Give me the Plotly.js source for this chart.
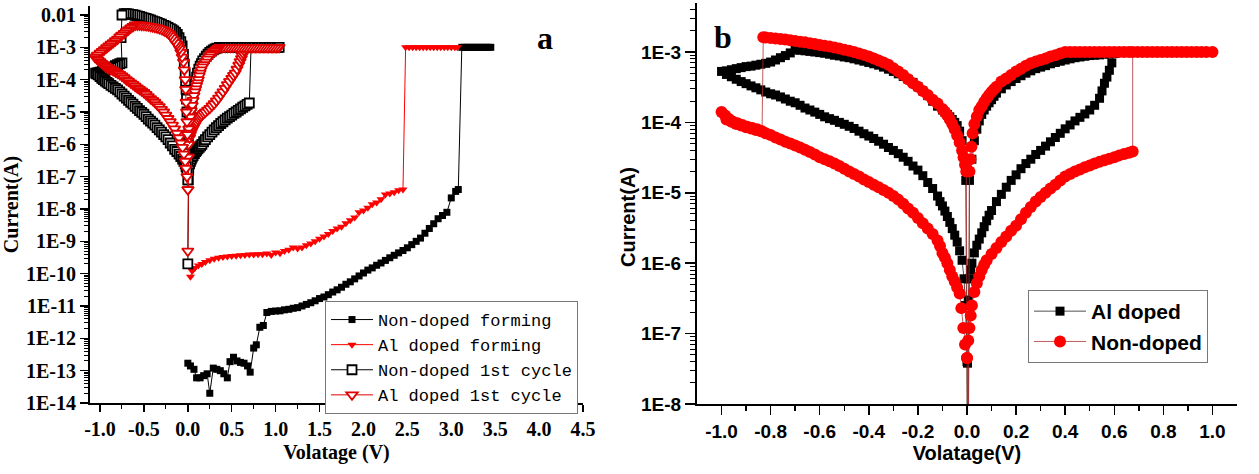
<!DOCTYPE html>
<html><head><meta charset="utf-8">
<script src="https://cdn.plot.ly/plotly-3.0.1.min.js"></script>
<style>html,body{margin:0;padding:0;background:#fff}#chart{width:1259px;height:474px}</style>
</head><body><div id="chart"></div>
<script>
// ================= DATA (voltage V, current A) =================
// Panel a
const nonDopedForming = [[0.00,1.7e-13],[0.03,1.4e-13],[0.07,1.1e-13],[0.10,6e-14],[0.14,6e-14],[0.18,7e-14],[0.22,8e-14],[0.25,2e-14],[0.29,1.2e-13],[0.33,1.1e-13],[0.37,1e-13],[0.41,8e-14],[0.45,6e-14],[0.48,1.9e-13],[0.52,2.6e-13],[0.56,2e-13],[0.60,1.8e-13],[0.64,1.7e-13],[0.68,1.4e-13],[0.71,9e-14],[0.75,5e-13],[0.78,6.3e-13],[0.82,2.2e-12],[0.86,2.5e-12],[0.90,6.3e-12],[0.95,6.8e-12],[1.00,7.0e-12],[1.05,7.1e-12],[1.10,7.6e-12],[1.15,7.9e-12],[1.20,8.5e-12],[1.25,8.9e-12],[1.30,1.0e-11],[1.35,1.12e-11],[1.40,1.26e-11],[1.45,1.45e-11],[1.50,1.7e-11],[1.55,1.9e-11],[1.60,2.24e-11],[1.65,2.7e-11],[1.70,3.16e-11],[1.75,3.8e-11],[1.80,4.7e-11],[1.85,5.6e-11],[1.90,6.9e-11],[1.95,8.5e-11],[2.00,1.05e-10],[2.05,1.29e-10],[2.10,1.51e-10],[2.15,1.82e-10],[2.20,2.14e-10],[2.25,2.57e-10],[2.30,3.1e-10],[2.35,3.7e-10],[2.40,4.4e-10],[2.45,5.2e-10],[2.50,6.3e-10],[2.55,7.9e-10],[2.60,1.0e-9],[2.65,1.26e-9],[2.70,1.78e-9],[2.75,2.5e-9],[2.80,3.5e-9],[2.85,5.0e-9],[2.90,6.3e-9],[2.95,7.9e-9],[3.00,2.2e-8],[3.05,3.5e-8],[3.08,4.0e-8],[3.12,1e-3],[3.15,1e-3],[3.18,1e-3],[3.21,1e-3],[3.24,1e-3],[3.27,1e-3],[3.30,1e-3],[3.33,1e-3],[3.36,1e-3],[3.39,1e-3],[3.42,1e-3],[3.45,1e-3]];

const alDopedForming = [[0.03,8e-11],[0.05,1.2e-10],[0.08,1.5e-10],[0.12,1.8e-10],[0.16,2.0e-10],[0.20,2.3e-10],[0.25,2.6e-10],[0.30,2.9e-10],[0.35,3.1e-10],[0.40,3.3e-10],[0.45,3.4e-10],[0.50,3.5e-10],[0.55,3.6e-10],[0.60,3.7e-10],[0.65,3.8e-10],[0.70,3.9e-10],[0.75,3.9e-10],[0.80,4.0e-10],[0.85,4.0e-10],[0.90,4.2e-10],[0.95,3.8e-10],[1.00,4.5e-10],[1.05,4.3e-10],[1.10,5.0e-10],[1.15,5.5e-10],[1.20,6.5e-10],[1.25,6.0e-10],[1.30,6.5e-10],[1.35,7.5e-10],[1.40,8.5e-10],[1.45,1.0e-9],[1.50,1.2e-9],[1.55,1.4e-9],[1.60,1.7e-9],[1.65,2.1e-9],[1.70,2.5e-9],[1.75,2.8e-9],[1.80,3.6e-9],[1.85,4.5e-9],[1.90,5.5e-9],[1.95,8e-9],[2.00,9e-9],[2.05,1.1e-8],[2.10,1.4e-8],[2.15,1.6e-8],[2.20,2.0e-8],[2.25,2.8e-8],[2.30,3.0e-8],[2.35,3.3e-8],[2.40,3.8e-8],[2.45,4.0e-8],[2.48,1e-3],[2.52,1e-3],[2.56,1e-3],[2.60,1e-3],[2.64,1e-3],[2.68,1e-3],[2.72,1e-3],[2.76,1e-3],[2.80,1e-3],[2.84,1e-3],[2.88,1e-3],[2.92,1e-3],[2.96,1e-3],[3.00,1e-3],[3.04,1e-3],[3.07,1e-3]];

const nonDoped1st = [
 [0,2e-10],[0.005,8e-8],[0.01,1.6e-7],[0.02,2.5e-7],[0.03,3e-7],[0.04,3.5e-7],[0.05,4e-7],[0.06,4.5e-7],[0.075,5.2e-7],[0.09,6e-7],[0.10,6.5e-7],[0.115,7.3e-7],[0.13,8e-7],[0.145,9e-7],[0.16,1.0e-6],[0.18,1.2e-6],[0.20,1.4e-6],[0.225,1.7e-6],[0.25,2.0e-6],[0.275,2.4e-6],[0.30,2.8e-6],[0.325,3.3e-6],[0.35,3.8e-6],[0.375,4.4e-6],[0.40,5.0e-6],[0.425,5.7e-6],[0.45,6.5e-6],[0.475,7.2e-6],[0.50,8.0e-6],[0.525,9e-6],[0.55,1.0e-5],[0.575,1.12e-5],[0.60,1.25e-5],[0.625,1.4e-5],[0.65,1.55e-5],[0.675,1.72e-5],[0.70,1.9e-5],
 [0.72,1e-3],[0.75,1e-3],[0.78,1e-3],[0.81,1e-3],[0.84,1e-3],[0.87,1e-3],[0.90,1e-3],[0.93,1e-3],[0.96,1e-3],[0.99,1e-3],[1.02,1e-3],[1.04,1e-3],
 [0.69,1e-3],[0.66,1e-3],[0.63,1e-3],[0.60,1e-3],[0.57,1e-3],[0.54,1e-3],[0.51,1e-3],[0.48,1e-3],[0.45,1e-3],[0.42,1e-3],[0.39,1e-3],[0.36,1e-3],
 [0.33,9.5e-4],[0.31,9e-4],[0.29,8.3e-4],[0.27,7.6e-4],[0.25,7e-4],[0.23,6.1e-4],[0.21,5.3e-4],[0.19,4.5e-4],[0.17,3.8e-4],[0.155,3.1e-4],[0.14,2.6e-4],[0.125,2.1e-4],[0.11,1.6e-4],[0.10,1.2e-4],[0.09,9e-5],[0.08,6.5e-5],[0.07,5e-5],[0.06,3.5e-5],[0.05,2.5e-5],[0.04,1.6e-5],[0.03,1e-5],[0.02,5.5e-6],[0.012,2.5e-6],[0.006,1.2e-6],[0.0,3e-7],
 [-0.004,1e-6],[-0.01,1e-5],[-0.015,2.5e-5],[-0.02,5e-5],[-0.025,9e-5],[-0.03,1.5e-4],[-0.04,3e-4],[-0.05,6e-4],[-0.065,1.1e-3],[-0.08,1.5e-3],[-0.10,2e-3],[-0.12,2.5e-3],[-0.14,2.9e-3],[-0.16,3.2e-3],[-0.18,3.5e-3],[-0.20,3.8e-3],[-0.225,4.1e-3],[-0.25,4.5e-3],[-0.275,4.8e-3],[-0.30,5.2e-3],[-0.325,5.5e-3],[-0.35,5.9e-3],[-0.375,6.2e-3],[-0.40,6.6e-3],[-0.425,7e-3],[-0.45,7.4e-3],[-0.475,7.8e-3],[-0.50,8.2e-3],[-0.525,8.6e-3],[-0.55,9e-3],[-0.575,9.4e-3],[-0.60,9.8e-3],[-0.625,1.02e-2],[-0.65,1.05e-2],[-0.675,1.08e-2],[-0.70,1.1e-2],[-0.725,1.1e-2],[-0.75,1.0e-2],
 [-0.76,2e-3],[-0.75,3.3e-4],[-0.775,3.1e-4],[-0.80,2.9e-4],[-0.825,2.7e-4],[-0.85,2.5e-4],[-0.875,2.35e-4],[-0.90,2.2e-4],[-0.925,2.05e-4],[-0.95,1.9e-4],[-0.975,1.8e-4],[-1.00,1.7e-4],[-1.025,1.65e-4],[-1.05,1.6e-4],
 [-1.04,1.5e-4],[-1.02,1.4e-4],[-1.00,1.25e-4],[-0.98,1.1e-4],[-0.96,1e-4],[-0.94,9e-5],[-0.92,8.2e-5],[-0.90,7.5e-5],[-0.875,6.7e-5],[-0.85,6e-5],[-0.825,5.4e-5],[-0.80,4.8e-5],[-0.775,4.2e-5],[-0.75,3.6e-5],[-0.725,3.1e-5],[-0.70,2.7e-5],[-0.675,2.3e-5],[-0.65,2e-5],[-0.625,1.75e-5],[-0.60,1.5e-5],[-0.575,1.3e-5],[-0.55,1.1e-5],[-0.525,9.7e-6],[-0.50,8.5e-6],[-0.475,7.2e-6],[-0.45,6e-6],[-0.425,5.2e-6],[-0.40,4.5e-6],[-0.375,3.9e-6],[-0.35,3.3e-6],[-0.325,2.8e-6],[-0.30,2.4e-6],[-0.275,2e-6],[-0.25,1.7e-6],[-0.225,1.4e-6],[-0.20,1.1e-6],[-0.175,9e-7],[-0.15,7e-7],[-0.125,6e-7],[-0.10,5e-7],[-0.08,4.2e-7],[-0.06,3.5e-7],[-0.045,3e-7],[-0.03,2.5e-7],[-0.02,2e-7],[-0.01,1.5e-7],[0.0,8e-8]];

const alDoped1st = [
 [0,5e-10],[0.003,4e-8],[0.006,4e-7],[0.01,1e-6],[0.02,1.6e-6],[0.03,2e-6],[0.04,2.4e-6],[0.05,2.8e-6],[0.06,3.2e-6],[0.07,3.6e-6],[0.08,4e-6],[0.09,4.5e-6],[0.10,5e-6],[0.115,5.7e-6],[0.13,6.5e-6],[0.145,7.2e-6],[0.16,8e-6],[0.18,9e-6],[0.20,1e-5],[0.225,1.15e-5],[0.25,1.3e-5],[0.275,1.55e-5],[0.30,1.8e-5],[0.325,2.2e-5],[0.35,2.7e-5],[0.375,3.4e-5],[0.40,4.2e-5],[0.425,5.4e-5],[0.45,7e-5],[0.475,8.8e-5],[0.50,1.1e-4],[0.52,1.35e-4],[0.54,1.6e-4],[0.56,2.1e-4],[0.58,2.8e-4],[0.595,3.6e-4],[0.61,4.5e-4],[0.62,5.5e-4],[0.63,6.5e-4],[0.64,8e-4],
 [0.65,1e-3],[0.68,1e-3],[0.71,1e-3],[0.74,1e-3],[0.77,1e-3],[0.80,1e-3],[0.83,1e-3],[0.86,1e-3],[0.89,1e-3],[0.92,1e-3],[0.95,1e-3],[0.98,1e-3],[1.01,1e-3],[1.04,1e-3],
 [1.025,1e-3],[0.995,1e-3],[0.965,1e-3],[0.935,1e-3],[0.905,1e-3],[0.875,1e-3],[0.845,1e-3],[0.815,1e-3],[0.785,1e-3],[0.755,1e-3],[0.725,1e-3],[0.695,1e-3],[0.665,1e-3],[0.635,1e-3],[0.605,1e-3],[0.575,1e-3],[0.545,1e-3],[0.515,1e-3],[0.485,1e-3],[0.455,1e-3],[0.425,1e-3],[0.395,1e-3],[0.365,1e-3],
 [0.34,9.2e-4],[0.32,8.3e-4],[0.30,7.5e-4],[0.28,6.7e-4],[0.26,6e-4],[0.24,5.1e-4],[0.22,4.3e-4],[0.20,3.5e-4],[0.18,2.9e-4],[0.165,2.5e-4],[0.15,2e-4],[0.14,1.6e-4],[0.13,1.3e-4],[0.12,1e-4],[0.11,8e-5],[0.10,6.5e-5],[0.09,5.2e-5],[0.08,4.2e-5],[0.07,3.2e-5],[0.06,2.3e-5],[0.05,1.6e-5],[0.04,1.1e-5],[0.03,7e-6],[0.02,5e-6],[0.01,3e-6],[0.005,2.2e-6],[0.0,4e-7],
 [-0.005,2e-6],[-0.01,5e-6],[-0.015,1e-5],[-0.02,2e-5],[-0.025,5e-5],[-0.03,1e-4],[-0.04,2e-4],[-0.05,3.5e-4],[-0.065,5e-4],[-0.08,7e-4],[-0.095,9e-4],[-0.11,1.1e-3],[-0.125,1.25e-3],[-0.14,1.4e-3],[-0.16,1.7e-3],[-0.18,2e-3],[-0.20,2.35e-3],[-0.22,2.7e-3],[-0.24,2.95e-3],[-0.26,3.2e-3],[-0.28,3.4e-3],[-0.30,3.6e-3],[-0.325,3.8e-3],[-0.35,4e-3],[-0.375,4.15e-3],[-0.40,4.3e-3],[-0.425,4.45e-3],[-0.45,4.6e-3],[-0.475,4.7e-3],[-0.50,4.8e-3],[-0.525,4.85e-3],[-0.55,4.9e-3],[-0.575,4.9e-3],[-0.60,4.9e-3],
 [-0.625,4.4e-3],[-0.65,4e-3],[-0.675,3.5e-3],[-0.70,3.1e-3],[-0.725,2.7e-3],[-0.75,2.4e-3],[-0.775,2.1e-3],[-0.80,1.8e-3],[-0.825,1.6e-3],[-0.85,1.4e-3],[-0.875,1.25e-3],[-0.90,1.1e-3],[-0.925,9.7e-4],[-0.95,8.5e-4],[-0.975,7.5e-4],[-1.00,6.6e-4],[-1.03,5.7e-4],[-1.06,5e-4],
 [-1.04,4.5e-4],[-1.02,4e-4],[-1.00,3.6e-4],[-0.98,3.2e-4],[-0.96,2.9e-4],[-0.94,2.6e-4],[-0.92,2.4e-4],[-0.90,2.2e-4],[-0.875,2.05e-4],[-0.85,1.9e-4],[-0.825,1.75e-4],[-0.80,1.6e-4],[-0.775,1.45e-4],[-0.75,1.3e-4],[-0.725,1.15e-4],[-0.70,1e-4],[-0.675,9e-5],[-0.65,8e-5],[-0.625,7.1e-5],[-0.60,6.3e-5],[-0.575,5.6e-5],[-0.55,5e-5],[-0.525,4.5e-5],[-0.50,4e-5],[-0.475,3.5e-5],[-0.45,3e-5],[-0.425,2.6e-5],[-0.40,2.3e-5],[-0.375,2e-5],[-0.35,1.7e-5],[-0.325,1.45e-5],[-0.30,1.2e-5],[-0.275,1e-5],[-0.25,8e-6],[-0.225,6.3e-6],[-0.20,5e-6],[-0.175,3.9e-6],[-0.15,3e-6],[-0.125,2.2e-6],[-0.10,1.6e-6],[-0.08,1.1e-6],[-0.06,8e-7],[-0.045,5e-7],[-0.03,3e-7],[-0.02,1.8e-7],[-0.01,1e-7],[0.0,4e-8]];

// Panel b
const alDopedB = [
 [0.0,1e-10],[0.002,3.8e-8],[0.005,3e-7],[0.01,6e-7],[0.015,8e-7],[0.02,1e-6],[0.03,1.4e-6],[0.04,1.8e-6],[0.05,2.2e-6],[0.06,2.7e-6],[0.07,3.3e-6],[0.08,4e-6],[0.09,4.8e-6],[0.10,5.6e-6],[0.12,7.5e-6],[0.14,9.5e-6],[0.16,1.2e-5],[0.18,1.5e-5],[0.20,1.8e-5],[0.22,2.2e-5],[0.24,2.6e-5],[0.26,3.0e-5],[0.28,3.5e-5],[0.30,4.0e-5],[0.32,4.6e-5],[0.34,5.3e-5],[0.36,6.1e-5],[0.38,7.0e-5],[0.40,8.1e-5],[0.42,9.2e-5],[0.44,1.05e-4],[0.46,1.18e-4],[0.48,1.32e-4],[0.50,1.5e-4],[0.52,1.75e-4],[0.54,2.2e-4],[0.55,2.8e-4],[0.56,3.6e-4],[0.57,4.4e-4],[0.58,5.5e-4],[0.59,7.0e-4],
 [0.60,9.5e-4],[0.58,9.4e-4],[0.56,9.3e-4],[0.54,9.1e-4],[0.52,9e-4],[0.50,8.9e-4],[0.48,8.7e-4],[0.46,8.5e-4],[0.44,8.3e-4],[0.42,8.0e-4],[0.40,7.7e-4],[0.38,7.4e-4],[0.36,7.1e-4],[0.34,6.8e-4],[0.32,6.4e-4],[0.30,6.1e-4],[0.28,5.8e-4],[0.26,5.4e-4],[0.24,5.0e-4],[0.22,4.6e-4],[0.20,4.2e-4],[0.18,3.8e-4],[0.16,3.4e-4],[0.14,3.0e-4],[0.12,2.6e-4],[0.11,2.35e-4],[0.10,2.1e-4],[0.09,1.9e-4],[0.08,1.7e-4],[0.07,1.5e-4],[0.06,1.3e-4],[0.05,1.05e-4],[0.04,8e-5],[0.03,5.5e-5],[0.02,3e-5],[0.01,1.5e-5],
 [0.004,1e-10],
 [-0.005,1.5e-5],[-0.01,3e-5],[-0.02,5.5e-5],[-0.03,7.5e-5],[-0.04,9e-5],[-0.05,1e-4],[-0.06,1.1e-4],[-0.07,1.2e-4],[-0.08,1.3e-4],[-0.09,1.4e-4],[-0.10,1.5e-4],[-0.12,1.7e-4],[-0.14,2e-4],[-0.16,2.4e-4],[-0.18,2.8e-4],[-0.20,3.2e-4],[-0.22,3.7e-4],[-0.24,4.1e-4],[-0.26,4.5e-4],[-0.28,4.9e-4],[-0.30,5.3e-4],[-0.32,5.7e-4],[-0.34,6.1e-4],[-0.36,6.5e-4],[-0.38,6.8e-4],[-0.40,7.1e-4],[-0.42,7.4e-4],[-0.44,7.7e-4],[-0.46,8e-4],[-0.48,8.3e-4],[-0.50,8.5e-4],[-0.52,8.8e-4],[-0.54,9e-4],[-0.56,9.3e-4],[-0.58,9.6e-4],[-0.60,9.8e-4],[-0.62,1.0e-3],[-0.64,1.02e-3],[-0.66,1.04e-3],[-0.68,1.06e-3],[-0.70,1.07e-3],
 [-0.72,9.7e-4],[-0.74,8.9e-4],[-0.76,8.3e-4],[-0.78,7.7e-4],[-0.80,7.2e-4],[-0.82,6.9e-4],[-0.84,6.7e-4],[-0.86,6.5e-4],[-0.88,6.3e-4],[-0.90,6.2e-4],[-0.92,6e-4],[-0.94,5.8e-4],[-0.96,5.6e-4],[-0.98,5.4e-4],[-1.00,5.3e-4],
 [-0.98,4.8e-4],[-0.96,4.45e-4],[-0.94,4.1e-4],[-0.92,3.8e-4],[-0.90,3.55e-4],[-0.88,3.3e-4],[-0.86,3.1e-4],[-0.84,2.9e-4],[-0.82,2.7e-4],[-0.80,2.55e-4],[-0.78,2.45e-4],[-0.76,2.3e-4],[-0.74,2.15e-4],[-0.72,2.0e-4],[-0.70,1.9e-4],[-0.68,1.75e-4],[-0.66,1.6e-4],[-0.64,1.5e-4],[-0.62,1.4e-4],[-0.60,1.3e-4],[-0.58,1.2e-4],[-0.56,1.13e-4],[-0.54,1.07e-4],[-0.52,1.0e-4],[-0.50,9.4e-5],[-0.48,8.8e-5],[-0.46,8.2e-5],[-0.44,7.5e-5],[-0.42,6.9e-5],[-0.40,6.4e-5],[-0.38,5.9e-5],[-0.36,5.4e-5],[-0.34,4.9e-5],[-0.32,4.4e-5],[-0.30,4.0e-5],[-0.28,3.6e-5],[-0.26,3.2e-5],[-0.24,2.8e-5],[-0.22,2.4e-5],[-0.20,2.1e-5],[-0.18,1.75e-5],[-0.16,1.4e-5],[-0.14,1.15e-5],[-0.12,9e-6],[-0.11,7.5e-6],[-0.10,6.5e-6],[-0.09,5.5e-6],[-0.08,4.6e-6],[-0.07,3.8e-6],[-0.06,3.1e-6],[-0.05,2.5e-6],[-0.04,2e-6],[-0.03,1.5e-6],[-0.02,1.1e-6],[-0.012,6e-7],[-0.006,2.5e-7],[0.0,4e-8]];

const nonDopedB = [
 [0.0,4.5e-8],[0.005,8e-8],[0.01,1.2e-7],[0.015,1.8e-7],[0.02,2.5e-7],[0.03,3.9e-7],[0.04,5.2e-7],[0.05,6.5e-7],[0.06,8e-7],[0.07,9.5e-7],[0.08,1.1e-6],[0.10,1.35e-6],[0.12,1.65e-6],[0.14,2.0e-6],[0.16,2.4e-6],[0.18,2.9e-6],[0.20,3.4e-6],[0.22,4.2e-6],[0.24,5.2e-6],[0.26,6.3e-6],[0.28,7.5e-6],[0.30,8.7e-6],[0.32,1.0e-5],[0.34,1.15e-5],[0.36,1.3e-5],[0.38,1.5e-5],[0.40,1.7e-5],[0.42,1.85e-5],[0.44,2.0e-5],[0.46,2.15e-5],[0.48,2.3e-5],[0.50,2.45e-5],[0.52,2.6e-5],[0.54,2.75e-5],[0.56,2.9e-5],[0.58,3.05e-5],[0.60,3.2e-5],[0.62,3.4e-5],[0.64,3.55e-5],[0.66,3.7e-5],[0.675,3.85e-5],
 [0.675,1e-3],[0.695,1e-3],[0.715,1e-3],[0.735,1e-3],[0.755,1e-3],[0.775,1e-3],[0.795,1e-3],[0.815,1e-3],[0.835,1e-3],[0.855,1e-3],[0.875,1e-3],[0.895,1e-3],[0.915,1e-3],[0.935,1e-3],[0.955,1e-3],[0.975,1e-3],[1.00,1e-3],
 [0.66,1e-3],[0.64,1e-3],[0.62,1e-3],[0.60,1e-3],[0.58,1e-3],[0.56,1e-3],[0.54,1e-3],[0.52,1e-3],[0.50,1e-3],[0.48,1e-3],[0.46,1e-3],[0.44,1e-3],[0.42,1e-3],[0.40,1e-3],
 [0.38,9.5e-4],[0.36,9e-4],[0.34,8.6e-4],[0.32,8.1e-4],[0.30,7.7e-4],[0.28,7.3e-4],[0.26,6.9e-4],[0.24,6.4e-4],[0.22,5.8e-4],[0.20,5.3e-4],[0.18,4.7e-4],[0.16,4.2e-4],[0.14,3.8e-4],[0.12,3.2e-4],[0.11,2.95e-4],[0.10,2.7e-4],[0.09,2.45e-4],[0.08,2.2e-4],[0.07,1.95e-4],[0.06,1.7e-4],[0.05,1.5e-4],[0.04,1.2e-4],[0.03,9.5e-5],[0.023,7e-5],[0.018,4.5e-5],[0.014,3e-5],[0.01,2e-5],
 [0.004,1e-10],
 [-0.003,2e-5],[-0.008,2.5e-5],[-0.014,3.2e-5],[-0.02,4e-5],[-0.03,5.2e-5],[-0.04,6.5e-5],[-0.05,8e-5],[-0.06,9.5e-5],[-0.07,1.1e-4],[-0.08,1.25e-4],[-0.09,1.4e-4],[-0.10,1.55e-4],[-0.12,1.85e-4],[-0.14,2.1e-4],[-0.16,2.45e-4],[-0.18,2.8e-4],[-0.20,3.2e-4],[-0.22,3.6e-4],[-0.24,4.1e-4],[-0.26,4.7e-4],[-0.28,5.3e-4],[-0.30,5.9e-4],[-0.32,6.6e-4],[-0.34,7.1e-4],[-0.36,7.6e-4],[-0.38,8.1e-4],[-0.40,8.6e-4],[-0.42,9.1e-4],[-0.44,9.5e-4],[-0.46,1e-3],[-0.48,1.04e-3],[-0.50,1.08e-3],[-0.52,1.12e-3],[-0.54,1.16e-3],[-0.56,1.2e-3],[-0.58,1.23e-3],[-0.60,1.26e-3],[-0.62,1.3e-3],[-0.64,1.33e-3],[-0.66,1.37e-3],[-0.68,1.4e-3],[-0.70,1.43e-3],[-0.72,1.47e-3],[-0.74,1.5e-3],[-0.76,1.53e-3],[-0.78,1.56e-3],[-0.80,1.58e-3],[-0.82,1.61e-3],[-0.83,1.62e-3],
 [-0.835,7.5e-5],[-0.855,8e-5],[-0.875,8.3e-5],[-0.895,8.7e-5],[-0.915,9.2e-5],[-0.935,9.7e-5],[-0.955,1.03e-4],[-0.97,1.12e-4],[-0.985,1.25e-4],[-1.00,1.4e-4],
 [-0.98,1.1e-4],[-0.96,1.02e-4],[-0.94,9.5e-5],[-0.92,9e-5],[-0.90,8.5e-5],[-0.88,8.2e-5],[-0.86,7.8e-5],[-0.84,7.5e-5],[-0.82,7e-5],[-0.80,6.6e-5],[-0.78,6.1e-5],[-0.76,5.7e-5],[-0.74,5.3e-5],[-0.72,5e-5],[-0.70,4.7e-5],[-0.68,4.4e-5],[-0.66,4.1e-5],[-0.64,3.8e-5],[-0.62,3.5e-5],[-0.60,3.2e-5],[-0.58,3e-5],[-0.56,2.8e-5],[-0.54,2.6e-5],[-0.52,2.4e-5],[-0.50,2.2e-5],[-0.48,2e-5],[-0.46,1.85e-5],[-0.44,1.7e-5],[-0.42,1.55e-5],[-0.40,1.42e-5],[-0.38,1.3e-5],[-0.36,1.2e-5],[-0.34,1.1e-5],[-0.32,1e-5],[-0.30,9e-6],[-0.28,8e-6],[-0.26,7e-6],[-0.24,6e-6],[-0.22,5.2e-6],[-0.20,4.4e-6],[-0.18,3.7e-6],[-0.16,3.1e-6],[-0.14,2.6e-6],[-0.12,2.1e-6],[-0.11,1.75e-6],[-0.10,1.4e-6],[-0.09,1.2e-6],[-0.08,1e-6],[-0.07,8e-7],[-0.06,6.5e-7],[-0.05,5.5e-7],[-0.04,4.5e-7],[-0.03,3.7e-7],[-0.023,2.3e-7],[-0.015,1.2e-7],[-0.008,7e-8],[0.0,4.5e-8]];

// Tick labels
const aXTickVals = [-1.0,-0.5,0.0,0.5,1.0,1.5,2.0,2.5,3.0,3.5,4.0,4.5];
const aXTickText = ['-1.0','-0.5','0.0','0.5','1.0','1.5','2.0','2.5','3.0','3.5','4.0','4.5'];
const aYTickVals = [1e-14,1e-13,1e-12,1e-11,1e-10,1e-9,1e-8,1e-7,1e-6,1e-5,1e-4,1e-3,1e-2];
const aYTickText = ['1E-14','1E-13','1E-12','1E-11','1E-10','1E-9','1E-8','1E-7','1E-6','1E-5','1E-4','1E-3','0.01'];
const bXTickVals = [-1.0,-0.8,-0.6,-0.4,-0.2,0.0,0.2,0.4,0.6,0.8,1.0];
const bXTickText = ['-1.0','-0.8','-0.6','-0.4','-0.2','0.0','0.2','0.4','0.6','0.8','1.0'];
const bYTickVals = [1e-8,1e-7,1e-6,1e-5,1e-4,1e-3];
const bYTickText = ['1E-8','1E-7','1E-6','1E-5','1E-4','1E-3'];

// ================= BUILD =================
const W = 1259, H = 474;
const fx = px => px / W, fy = py => 1 - py / H;
const xs = d => d.map(p => p[0]), ys = d => d.map(p => p[1]);
function logMinors(lo, hi){ const o=[]; for(let e=lo;e<=hi;e++){ for(let m=2;m<=9;m++) o.push(m*Math.pow(10,e)); } return o; }
function linMinors(a, b, step){ const o=[]; for(let v=a; v<=b+1e-9; v+=step) o.push(+v.toFixed(3)); return o; }

const SERIF = 'Liberation Serif, Times New Roman, serif';
const SANS = 'Liberation Sans, Arial, sans-serif';
const MONO = 'Liberation Mono, Courier New, monospace';

const traces = [
 {x: xs(nonDopedForming), y: ys(nonDopedForming), xaxis:'x', yaxis:'y', name:'Non-doped forming', mode:'lines+markers',
  line:{color:'#000', width:1}, marker:{symbol:'square', size:7, color:'#000'}},
 {x: xs(alDopedForming), y: ys(alDopedForming), xaxis:'x', yaxis:'y', name:'Al doped forming', mode:'lines+markers',
  line:{color:'#ff0000', width:1}, marker:{symbol:'triangle-down', size:8, color:'#ff0000'}},
 {x: xs(nonDoped1st), y: ys(nonDoped1st), xaxis:'x', yaxis:'y', name:'Non-doped 1st cycle', mode:'lines+markers',
  line:{color:'#000', width:1}, marker:{symbol:'square', size:9, color:'#fff', line:{color:'#000', width:1.8}}},
 {x: xs(alDoped1st), y: ys(alDoped1st), xaxis:'x', yaxis:'y', name:'Al doped 1st cycle', mode:'lines+markers',
  line:{color:'#e00000', width:1}, marker:{symbol:'triangle-down', size:10, color:'#fff', line:{color:'#e00000', width:1.8}}},
 {x: xs(alDopedB), y: ys(alDopedB), xaxis:'x2', yaxis:'y2', name:'Al doped', legend:'legend2', mode:'lines+markers',
  line:{color:'#222', width:0.8}, marker:{symbol:'square', size:9, color:'#000'}},
 {x: xs(nonDopedB), y: ys(nonDopedB), xaxis:'x2', yaxis:'y2', name:'Non-doped', legend:'legend2', mode:'lines+markers',
  line:{color:'#b03030', width:0.8}, marker:{symbol:'circle', size:12, color:'#ff0000'}}
];

const common = {showgrid:false, zeroline:false, showline:true, linecolor:'#000', linewidth:2, tickcolor:'#000', tickwidth:1.5};
const aXDom = [fx(90), fx(583)], aYDom = [fy(403), fy(6)];
const bXDom = [fx(697), fx(1237)], bYDom = [fy(404), fy(3)];
const aXR = [-1.114, 4.5], aYR = [-14, -1.722];
const bXR = [-1.1, 1.1], bYR = [-8, -2.304];
const aXMin = linMinors(-0.75, 4.25, 0.5), bXMin = linMinors(-0.9, 0.9, 0.2);
const aYMin = logMinors(-14, -2), bYMin = logMinors(-8, -3);

const layout = {
 width: W, height: H, margin:{l:0,r:0,t:0,b:0}, paper_bgcolor:'#fff', plot_bgcolor:'#fff',
 showlegend: true,
 xaxis: Object.assign({}, common, {domain:aXDom, anchor:'y', range:aXR, tickmode:'array', tickvals:aXTickVals, ticktext:aXTickText,
   ticks:'outside', ticklen:7, minor:{tickmode:'array', tickvals:aXMin, ticks:'outside', ticklen:4, tickwidth:1, tickcolor:'#000'},
   tickfont:{family:SERIF, size:20, weight:'bold', color:'#000'},
   title:{text:'Volatage (V)', font:{family:SERIF, size:20, weight:'bold', color:'#000'}, standoff:6}}),
 yaxis: Object.assign({}, common, {domain:aYDom, anchor:'x', type:'log', range:aYR, tickmode:'array', tickvals:aYTickVals, ticktext:aYTickText,
   ticks:'outside', ticklen:8, minor:{tickmode:'array', tickvals:aYMin, ticks:'outside', ticklen:4, tickwidth:1, tickcolor:'#000'},
   tickfont:{family:SERIF, size:20, weight:'bold', color:'#000'},
   title:{text:'Current(A)', font:{family:SERIF, size:20, weight:'bold', color:'#000'}, standoff:2}}),
 xaxis3: Object.assign({}, common, {domain:aXDom, anchor:'y', overlaying:'x', side:'top', range:aXR, tickmode:'array', tickvals:aXTickVals,
   showticklabels:false, ticks:'inside', ticklen:7, minor:{tickmode:'array', tickvals:aXMin, ticks:'inside', ticklen:4, tickwidth:1, tickcolor:'#000'}}),
 yaxis3: Object.assign({}, common, {domain:aYDom, anchor:'x', overlaying:'y', side:'right', type:'log', range:aYR, tickmode:'array', tickvals:aYTickVals,
   showticklabels:false, ticks:'inside', ticklen:7, minor:{tickmode:'array', tickvals:aYMin, ticks:'inside', ticklen:4, tickwidth:1, tickcolor:'#000'}}),
 xaxis2: Object.assign({}, common, {domain:bXDom, anchor:'y2', range:bXR, tickmode:'array', tickvals:bXTickVals, ticktext:bXTickText,
   ticks:'outside', ticklen:9, minor:{tickmode:'array', tickvals:bXMin, ticks:'outside', ticklen:5, tickwidth:1.5, tickcolor:'#000'},
   tickfont:{family:SANS, size:19, weight:'bold', color:'#000'},
   title:{text:'Volatage(V)', font:{family:SANS, size:20, weight:'bold', color:'#000'}, standoff:2}}),
 yaxis2: Object.assign({}, common, {domain:bYDom, anchor:'x2', type:'log', range:bYR, tickmode:'array', tickvals:bYTickVals, ticktext:bYTickText,
   ticks:'outside', ticklen:10, minor:{tickmode:'array', tickvals:bYMin, ticks:'outside', ticklen:5, tickwidth:1, tickcolor:'#000'},
   tickfont:{family:SANS, size:19, weight:'bold', color:'#000'}}),
 xaxis4: Object.assign({}, common, {domain:bXDom, anchor:'y2', overlaying:'x2', side:'top', range:bXR, tickmode:'array', tickvals:bXTickVals,
   showticklabels:false, ticks:'inside', ticklen:9, minor:{tickmode:'array', tickvals:bXMin, ticks:'inside', ticklen:5, tickwidth:1.5, tickcolor:'#000'}}),
 yaxis4: Object.assign({}, common, {domain:bYDom, anchor:'x2', overlaying:'y2', side:'right', type:'log', range:bYR, tickmode:'array', tickvals:bYTickVals,
   showticklabels:false, ticks:'inside', ticklen:9, minor:{tickmode:'array', tickvals:bYMin, ticks:'inside', ticklen:5, tickwidth:1, tickcolor:'#000'}}),
 legend: {x:fx(325), y:fy(301), xanchor:'left', yanchor:'top', bgcolor:'#fff', bordercolor:'#777', borderwidth:1,
   font:{family:MONO, size:17, color:'#000'}, tracegroupgap:0, itemwidth:42},
 legend2: {x:fx(1028), y:fy(290), xanchor:'left', yanchor:'top', bgcolor:'#fff', bordercolor:'#777', borderwidth:1,
   font:{family:SANS, size:21, weight:'bold', color:'#000'}, tracegroupgap:0, itemwidth:52},
 annotations: [
  {text:'a', xref:'paper', yref:'paper', x:fx(545), y:fy(38), xanchor:'center', yanchor:'middle', showarrow:false,
   font:{family:SERIF, size:32, weight:'bold', color:'#000'}},
  {text:'b', xref:'paper', yref:'paper', x:fx(723), y:fy(37), xanchor:'center', yanchor:'middle', showarrow:false,
   font:{family:SERIF, size:32, weight:'bold', color:'#000'}},
  {text:'Current(A)', xref:'paper', yref:'paper', x:fx(628), y:fy(217), xanchor:'center', yanchor:'middle', textangle:-90, showarrow:false,
   font:{family:SANS, size:20, weight:'bold', color:'#000'}}
 ]
};

Plotly.newPlot('chart', traces, layout, {displayModeBar:false, staticPlot:true});
</script>
</body></html>
